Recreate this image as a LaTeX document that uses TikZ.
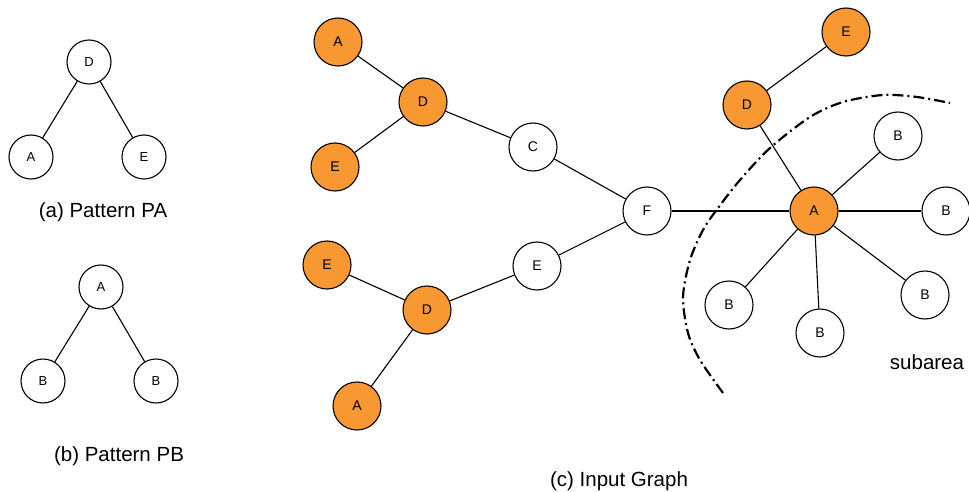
\documentclass[tikz,border=0pt]{standalone}
\usepackage{fontspec}
\setmainfont{Liberation Sans}
\definecolor{nodeorange}{RGB}{247,152,50}
\begin{document}
\begin{tikzpicture}[x=1pt,y=-1pt,
  vertex/.style={circle,draw=black,line width=1.1pt,minimum size=48pt,inner sep=0pt,fill=white,font=\fontsize{14}{14}\selectfont},
  hot/.style={vertex,fill=nodeorange},
  pvertex/.style={vertex,minimum size=44pt,font=\fontsize{13}{13}\selectfont},
  edge/.style={line width=1.1pt},
  caption/.style={font=\fontsize{20.5}{20.5}\selectfont}]
\useasboundingbox (0,0) rectangle (969,492);

% (a) pattern PA
\node[pvertex] (paD) at (89,62) {D};
\node[pvertex] (paA) at (31,157) {A};
\node[pvertex] (paE) at (144,157) {E};
\draw[edge] (paD) -- (paA);
\draw[edge] (paD) -- (paE);
\node[caption] (capa) at (103,212) {(a) Pattern PA};

% (b) pattern PB
\node[pvertex] (pbA) at (101,287) {A};
\node[pvertex] (pbB1) at (43,381) {B};
\node[pvertex] (pbB2) at (156,381) {B};
\draw[edge] (pbA) -- (pbB1);
\draw[edge] (pbA) -- (pbB2);
\node[caption] (capb) at (119,456) {(b) Pattern PB};

% (c) input graph
\node[hot] (gA1) at (338,42) {A};
\node[hot] (gD1) at (423,102) {D};
\node[hot] (gE1) at (335,167) {E};
\node[vertex] (gC) at (533,147) {C};
\node[vertex] (gF) at (647,211) {F};
\node[vertex] (gE2) at (537,266) {E};
\node[hot] (gE3) at (327,265) {E};
\node[hot] (gD2) at (427,310) {D};
\node[hot] (gA2) at (357,406) {A};
\node[hot] (gD3) at (747,105) {D};
\node[hot] (gE4) at (846,32) {E};
\node[hot] (gA) at (814,211) {A};
\node[vertex] (gB1) at (898,136) {B};
\node[vertex] (gB2) at (946,211) {B};
\node[vertex] (gB3) at (925,295) {B};
\node[vertex] (gB4) at (820,333) {B};
\node[vertex] (gB5) at (729,305) {B};

\draw[edge] (gA1) -- (gD1);
\draw[edge] (gE1) -- (gD1);
\draw[edge] (gD1) -- (gC);
\draw[edge] (gC) -- (gF);
\draw[edge] (gF) -- (gE2);
\draw[edge] (gE2) -- (gD2);
\draw[edge] (gE3) -- (gD2);
\draw[edge] (gD2) -- (gA2);
\draw[edge] (gF) -- (gA);
\draw[edge] (gD3) -- (gE4);
\draw[edge] (gD3) -- (gA);
\foreach \b in {gB1,gB2,gB3,gB4,gB5} \draw[edge] (gA) -- (\b);

% subarea boundary
\draw[line width=2.2pt,dash pattern=on 11pt off 4pt on 2pt off 4pt]
  plot[smooth,tension=0.5] coordinates {(723,393) (700,360) (688,333) (683,297) (690,260) (703,230) (718,208) (740,180) (770,148) (810,117) (843,102) (883,95) (917,97) (950,103)};
\node[caption] (sub) at (927,362) {subarea};

\node[caption] (capc) at (619,481) {(c) Input Graph};
\end{tikzpicture}
\end{document}
